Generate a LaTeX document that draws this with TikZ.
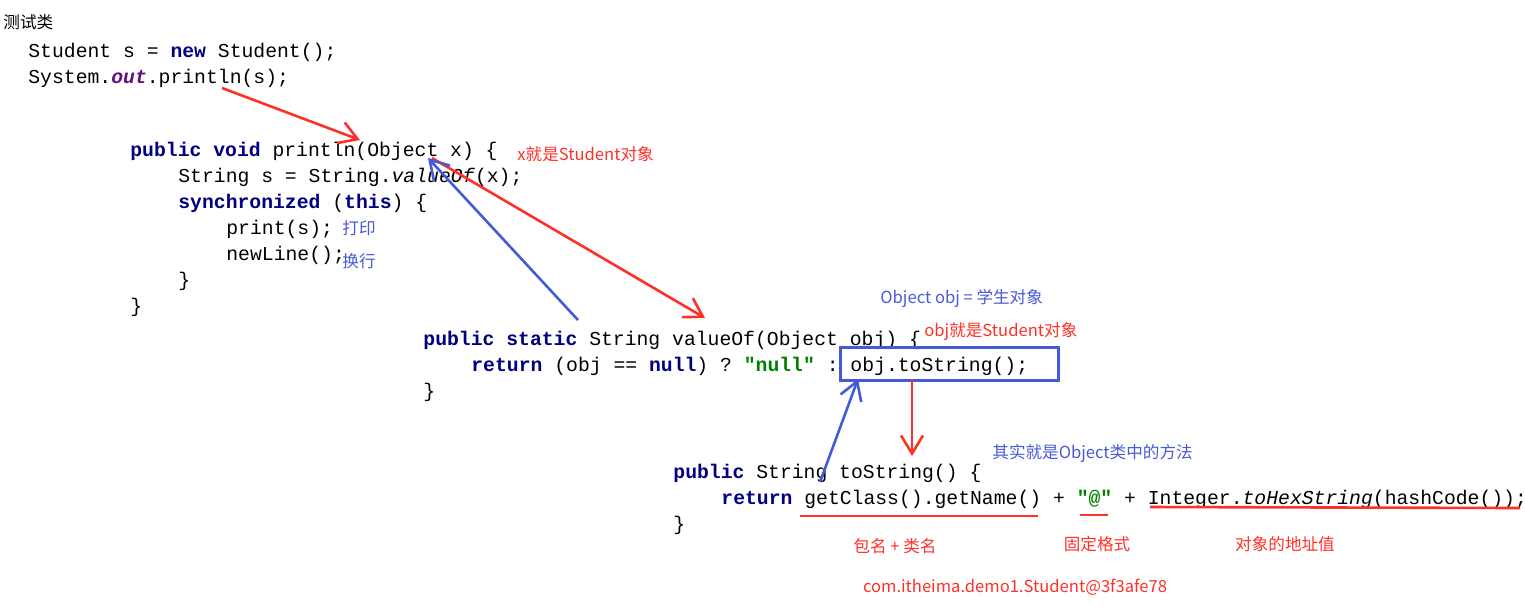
\documentclass[tikz,border=0pt]{standalone}
\usepackage{fontspec}
\setmonofont{Liberation Mono}
\newfontfamily\cjk{Noto Sans CJK SC}
\usetikzlibrary{arrows.meta,positioning}
\definecolor{kwcol}{RGB}{0,0,128}
\definecolor{strcol}{RGB}{0,128,0}
\definecolor{fldcol}{RGB}{102,14,122}
\definecolor{notered}{RGB}{255,48,40}
\definecolor{noteblue}{RGB}{70,90,215}
\newcommand{\kw}[1]{\textcolor{kwcol}{\bfseries #1}}
\newcommand{\str}[1]{\textcolor{strcol}{\bfseries #1}}
\tikzset{
  code/.style={anchor=base west,inner sep=0pt,font=\ttfamily\fontsize{9.87}{11}\selectfont},
  note/.style={anchor=base west,inner sep=0pt,font=\cjk\fontsize{8.3}{10}\selectfont},
  rednote/.style={note,text=notered},
  bluenote/.style={note,text=noteblue},
  redarrow/.style={draw=notered,line width=1.3pt,-{Straight Barb[length=9pt,width=11pt,line width=1.3pt]}},
  bluearrow/.style={draw=noteblue,line width=1.3pt,-{Straight Barb[length=9pt,width=11pt,line width=1.3pt]}},
  redline/.style={draw=notered,line width=1.3pt},
}
\begin{document}
\begin{tikzpicture}[x=0.5pt,y=-0.5pt]
\useasboundingbox (0,0) rectangle (1525,607);
% test class
\node[note] (title) at (3,28) {测试类};
\node[code] (l1) at (28,57) {Student s = \kw{new} Student();};
\node[code] (l2) at (28,83) {System.\textcolor{fldcol}{\bfseries\itshape out}.println(s);};
% println
\node[code] (p1) at (130,156) {\kw{public} \kw{void} println(Object x) \{};
\node[code] (p2) at (178,182) {String s = String.\textit{valueOf}(x);};
\node[code] (p3) at (178,208) {\kw{synchronized} (\kw{this}) \{};
\node[code] (p4) at (226,234) {print(s);};
\node[code] (p5) at (226,260) {newLine();};
\node[code] (p6) at (178,286) {\}};
\node[code] (p7) at (130,312) {\}};
\node[rednote] (xnote) at (517,160) {x就是Student对象};
\node[bluenote] (printnote) at (342,234) {打印};
\node[bluenote] (newlinenote) at (342,267) {换行};
% valueOf
\node[code] (v1) at (423,345) {\kw{public} \kw{static} String valueOf(Object obj) \{};
\node[code] (v2) at (471,371) {\kw{return} (obj == \kw{null}) ? \str{"null"} : obj.toString();};
\node[code] (v3) at (423,397) {\}};
\node[bluenote] (objnote) at (880,303) {Object obj = 学生对象};
\node[rednote] (studnote) at (924,336) {obj就是Student对象};
\draw[noteblue,line width=1.5pt] (840,347) rectangle (1058,380);
% toString
\node[code] (t1) at (673,478) {\kw{public} String toString() \{};
\node[code] (t2) at (721,504) {\kw{return} getClass().getName() + \str{"@"} + Integer.\textit{toHexString}(hashCode());};
\node[code] (t3) at (673,530) {\}};
\node[bluenote] (methnote) at (992,458) {其实就是Object类中的方法};
\draw[redline] (800,516) -- (1038,516);
\draw[redline] (1080,515) -- (1108,515);
\draw[redline] (1150,507) -- (1520,508);
\node[rednote,anchor=base] (pkgnote) at (895,552) {包名 + 类名};
\node[rednote,anchor=base] (fmtnote) at (1097,550) {固定格式};
\node[rednote,anchor=base] (addrnote) at (1285,550) {对象的地址值};
\node[rednote,anchor=base] (result) at (1015,592) {com.itheima.demo1.Student@3f3afe78};
% arrows
\coordinate (a1s) at (222,88);
\coordinate (a1e) at (360,140);
\coordinate (a2s) at (432,158);
\coordinate (a2e) at (705,318);
\coordinate (b1s) at (578,320);
\coordinate (b1e) at (428,158);
\coordinate (a3s) at (912,380);
\coordinate (a3e) at (912,456);
\coordinate (b2s) at (820,482);
\coordinate (b2e) at (858,379);
\draw[redarrow] (a1s) -- (a1e);
\draw[redarrow] (a2s) -- (a2e);
\draw[bluearrow] (b1s) -- (b1e);
\draw[redarrow] (a3s) -- (a3e);
\draw[bluearrow] (b2s) -- (b2e);
\end{tikzpicture}
\end{document}
